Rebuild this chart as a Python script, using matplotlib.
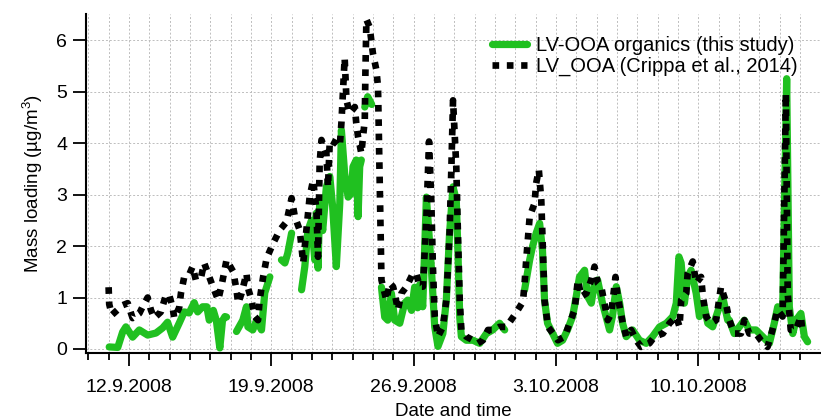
import matplotlib
matplotlib.use("Agg")
import matplotlib.pyplot as plt
import matplotlib.dates as mdates
import numpy as np
from datetime import datetime, timedelta

plt.rcParams['font.family'] = ['Liberation Sans', 'DejaVu Sans']
plt.rcParams['mathtext.fontset'] = 'custom'
plt.rcParams['mathtext.rm'] = 'Liberation Sans'
plt.rcParams['mathtext.it'] = 'Liberation Sans'

nan = np.nan
# time in fractional days of September 2008 (32.0 = 2 Oct 2008)
green_days = [11.03, 11.45, 11.69, 11.85, 12.18, 12.51, 12.92, 13.33, 13.66, 13.90,
              14.15, 14.47, 14.72, 14.96, 15.21, 15.38, 15.62, 15.83, 15.95, 16.15,
              16.30, 16.47, 16.60, 16.72, 16.80, 17.00,
              17.29, 17.60, 17.78, 17.85, 18.09, 18.28, 18.52, 18.68, 18.93, 19.2,
              19.50, 19.67, 19.81, 20.00, 20.2,
              20.49, 20.65, 20.80, 20.98, 21.14, 21.22, 21.30, 21.38, 21.53, 21.71,
              21.88, 22.02, 22.20, 22.37, 22.45, 22.61, 22.78, 22.94, 23.02, 23.18,
              23.27, 23.35, 23.43, 23.50,
              23.60, 23.74, 23.94, 24.1,
              24.42, 24.58, 24.73, 24.91, 25.07, 25.32, 25.56, 25.71, 25.90, 26.05,
              26.20, 26.30, 26.45, 26.63, 26.87, 27.04, 27.20, 27.44, 27.61, 27.77,
              27.94, 28.10, 28.18, 28.27, 28.35, 28.59, 28.92, 29.25, 29.58, 29.89,
              30.23, 30.48, 30.9,
              31.46, 31.71, 31.85, 32.03, 32.20, 32.34, 32.44, 32.59, 32.84, 33.08,
              33.33, 33.57, 33.82, 34.00, 34.16, 34.41, 34.56, 34.74, 34.90, 35.05,
              35.29, 35.64, 35.78, 35.97, 36.13, 36.28, 36.46, 36.77, 37.11, 37.44,
              37.75, 38.10, 38.43, 38.75, 38.92, 39.05, 39.16, 39.32, 39.48, 39.65,
              39.90, 40.06, 40.30, 40.47, 40.71, 41.04, 41.20, 41.45, 41.53, 41.77,
              42.02, 42.27, 42.51, 42.84, 43.17, 43.50, 43.74, 43.91, 44.15, 44.35,
              44.48, 44.65, 44.81, 45.05, 45.22, 45.38]
green_vals = [0.04, 0.03, 0.33, 0.43, 0.23, 0.37, 0.27, 0.31, 0.41, 0.52,
              0.23, 0.50, 0.72, 0.70, 0.90, 0.72, 0.82, 0.82, 0.56, 0.75,
              0.55, 0.02, 0.55, 0.63, 0.62, nan,
              0.34, 0.56, 0.82, 0.43, 0.37, 0.56, 0.37, 1.09, 1.40, nan,
              1.73, 1.67, 1.86, 2.25, nan,
              1.15, 1.60, 2.30, 2.50, 1.73, 2.64, 1.57, 2.83, 2.30, 3.15,
              3.35, 2.76, 1.60, 2.83, 4.25, 3.41, 2.95, 3.02, 3.54, 3.67,
              2.57, 3.54, 3.67, nan,
              4.70, 4.90, 4.75, nan,
              1.20, 0.62, 0.56, 1.08, 0.56, 0.50, 0.89, 0.95, 0.75, 1.20,
              0.80, 1.25, 0.82, 2.95, 1.60, 0.43, 0.05, 0.30, 0.95, 2.25,
              3.15, 2.89, 1.92, 0.62, 0.24, 0.17, 0.17, 0.11, 0.30, 0.37,
              0.50, 0.37, nan,
              1.15, 1.73, 1.99, 2.25, 2.44, 1.92, 0.95, 0.50, 0.30, 0.11,
              0.17, 0.37, 0.63, 1.02, 1.40, 1.53, 1.02, 0.89, 1.28, 1.34,
              0.89, 0.37, 0.63, 1.21, 0.90, 0.50, 0.24, 0.37, 0.17, 0.11,
              0.24, 0.43, 0.50, 0.63, 0.89, 1.79, 1.67, 0.89, 1.40, 1.53,
              1.08, 0.63, 0.82, 0.50, 0.43, 0.82, 1.02, 0.56, 0.56, 0.30,
              0.43, 0.56, 0.37, 0.37, 0.24, 0.11, 0.50, 0.82, 0.69, 5.25,
              0.82, 0.30, 0.56, 0.69, 0.24, 0.14]

black_days = [11.00, 11.03, 11.16, 11.44, 11.69, 11.94, 12.18, 12.51, 12.67, 12.92,
              13.08, 13.24, 13.57, 13.82, 13.98, 14.15, 14.23, 14.47, 14.56, 14.72,
              14.96, 15.13, 15.29, 15.54, 15.70, 15.95, 16.13, 16.39, 16.56, 16.80,
              17.13, 17.29, 17.37, 17.54, 17.78, 17.86, 18.03, 18.19, 18.35, 18.43,
              18.60, 18.77, 19.09, 19.42, 19.75, 20.00, 20.16, 20.40, 20.57, 20.73,
              20.89, 21.06, 21.22, 21.30, 21.38, 21.47, 21.71, 21.79, 21.88, 22.21,
              22.37, 22.45, 22.53, 22.61, 22.70, 22.86, 23.11, 23.18, 23.27, 23.43,
              23.60, 23.63, 23.68, 23.84, 24.00, 24.17, 24.25, 24.42, 24.50, 24.66,
              24.83, 24.99, 25.07, 25.23, 25.40, 25.65, 25.97, 26.13, 26.30, 26.46,
              26.63, 26.76, 26.87, 26.95, 27.04, 27.20, 27.44, 27.61, 27.77, 27.86,
              27.94, 28.10, 28.18, 28.27, 28.35, 28.59, 28.92, 29.16, 29.41, 29.66,
              29.98, 30.23, 30.56, 30.97, 31.38, 31.46, 31.54, 31.71, 31.95, 32.03,
              32.16, 32.28, 32.36, 32.44, 32.61, 32.86, 33.10, 33.43, 33.67, 33.92,
              34.08, 34.25, 34.50, 34.74, 34.90, 35.06, 35.23, 35.39, 35.55, 35.72,
              35.93, 36.04, 36.29, 36.46, 36.70, 36.95, 37.19, 37.60, 37.85, 38.26,
              38.59, 38.92, 39.08, 39.16, 39.41, 39.48, 39.73, 39.90, 40.14, 40.23,
              40.39, 40.63, 40.88, 41.12, 41.33, 41.53, 41.77, 42.10, 42.27, 42.51,
              42.84, 43.08, 43.41, 43.65, 43.90, 44.15, 44.31, 44.40, 44.55, 44.80,
              45.05, 45.13]
black_vals = [1.20, 0.87, 0.66, 0.76, 0.85, 0.89, 0.60, 0.69, 0.82, 1.00,
              0.76, 0.60, 0.72, 1.05, 1.05, 0.80, 0.60, 0.80, 1.09, 1.40,
              1.44, 1.60, 1.34, 1.38, 1.67, 1.40, 1.21, 0.95, 1.24, 1.73,
              1.50, 1.15, 0.89, 1.08, 1.47, 1.18, 0.95, 0.63, 0.56, 0.95,
              1.40, 1.76, 2.05, 2.31, 2.47, 2.93, 2.57, 2.31, 1.67, 2.31,
              2.96, 3.28, 2.70, 1.79, 3.61, 4.06, 3.80, 3.15, 4.06, 3.99,
              3.93, 4.39, 5.03, 5.65, 4.83, 4.58, 4.70, 4.39, 4.12, 3.80,
              4.45, 5.36, 6.40, 6.25, 5.74, 5.42, 5.09, 1.34, 1.21, 0.95,
              1.28, 1.21, 1.08, 0.76, 1.08, 1.21, 1.47, 1.47, 1.21, 1.21,
              2.57, 4.03, 2.89, 1.60, 0.63, 0.24, 0.43, 0.95, 2.25, 3.54,
              4.83, 3.54, 2.25, 0.95, 0.37, 0.24, 0.17, 0.11, 0.17, 0.37,
              0.37, 0.43, 0.43, 0.66, 0.92, 1.28, 1.73, 2.57, 2.83, 3.22,
              3.48, 2.89, 1.92, 0.95, 0.43, 0.30, 0.17, 0.24, 0.50, 0.76,
              1.34, 1.02, 1.08, 1.34, 1.60, 1.28, 1.21, 0.89, 0.56, 0.69,
              1.40, 1.02, 0.50, 0.24, 0.37, 0.17, 0.04, 0.11, 0.24, 0.30,
              0.50, 0.63, 0.43, 0.95, 1.08, 1.47, 1.70, 1.28, 1.40, 1.02,
              0.63, 0.50, 0.56, 1.21, 0.95, 0.56, 0.30, 0.30, 0.56, 0.30,
              0.30, 0.17, 0.04, 0.37, 0.76, 0.63, 4.96, 1.08, 0.37, 0.37,
              0.63, 0.30]

major_tick_dates = ["2008-09-12", "2008-09-19", "2008-09-26", "2008-10-03", "2008-10-10"]
major_tick_labels = ["12.9.2008", "19.9.2008", "26.9.2008", "3.10.2008", "10.10.2008"]
y_ticks = [0, 1, 2, 3, 4, 5, 6]

series_labels = ["LV-OOA organics (this study)", "LV_OOA (Crippa et al., 2014)"]

base = datetime(2008, 9, 1)
def to_num(days):
    return mdates.date2num([base + timedelta(days=d - 1) for d in days])

fig = plt.figure(figsize=(8.21, 4.20), dpi=100)
ax = fig.add_axes([0.1048, 0.1595, 0.894, 0.807])

ax.plot(to_num(green_days), green_vals, color='#20c020', lw=5.2,
        solid_capstyle='round', solid_joinstyle='round', label=series_labels[0], zorder=3)
ax.plot(to_num(black_days), black_vals, color='black', lw=4.8,
        linestyle=(0, (1.0, 1.15)), dash_capstyle='butt', label=series_labels[1], zorder=4)

ax.set_xlim(to_num([9.89])[0], to_num([45.99])[0])
ax.set_ylim(-0.078, 6.505)

ax.xaxis.set_major_locator(plt.FixedLocator(mdates.date2num(
    [datetime.strptime(s, "%Y-%m-%d") for s in major_tick_dates])))
ax.xaxis.set_major_formatter(plt.FixedFormatter(major_tick_labels))
ax.xaxis.set_minor_locator(mdates.DayLocator())
ax.set_yticks(y_ticks)

for s in ['top', 'right']:
    ax.spines[s].set_visible(False)
for s in ['left', 'bottom']:
    ax.spines[s].set_linewidth(1.5)

ax.tick_params(axis='both', which='major', direction='out', length=9.5, width=1.3,
               labelsize=14, color='black')
ax.tick_params(axis='x', which='major', pad=9)
ax.tick_params(axis='y', which='major', pad=4)
ax.tick_params(axis='x', which='minor', direction='out', length=5, width=1.3)

ax.grid(True, which='both', axis='x', color='#bdbdbd', lw=0.7, linestyle=(0, (2, 2)))
ax.grid(True, which='major', axis='y', color='#bdbdbd', lw=0.7, linestyle=(0, (2, 2)))
ax.set_axisbelow(True)

ax.set_xlabel("Date and time", fontsize=13.5, labelpad=5)
ax.set_ylabel("Mass loading (µg/m$^3$)", fontsize=13.5, labelpad=8)

leg = ax.legend(loc='upper right', bbox_to_anchor=(0.981, 0.96), frameon=False,
                fontsize=14.5, handlelength=1.75, handletextpad=0.45,
                labelspacing=0.12, borderaxespad=0.0)

fig.savefig("out.png", dpi=100)
